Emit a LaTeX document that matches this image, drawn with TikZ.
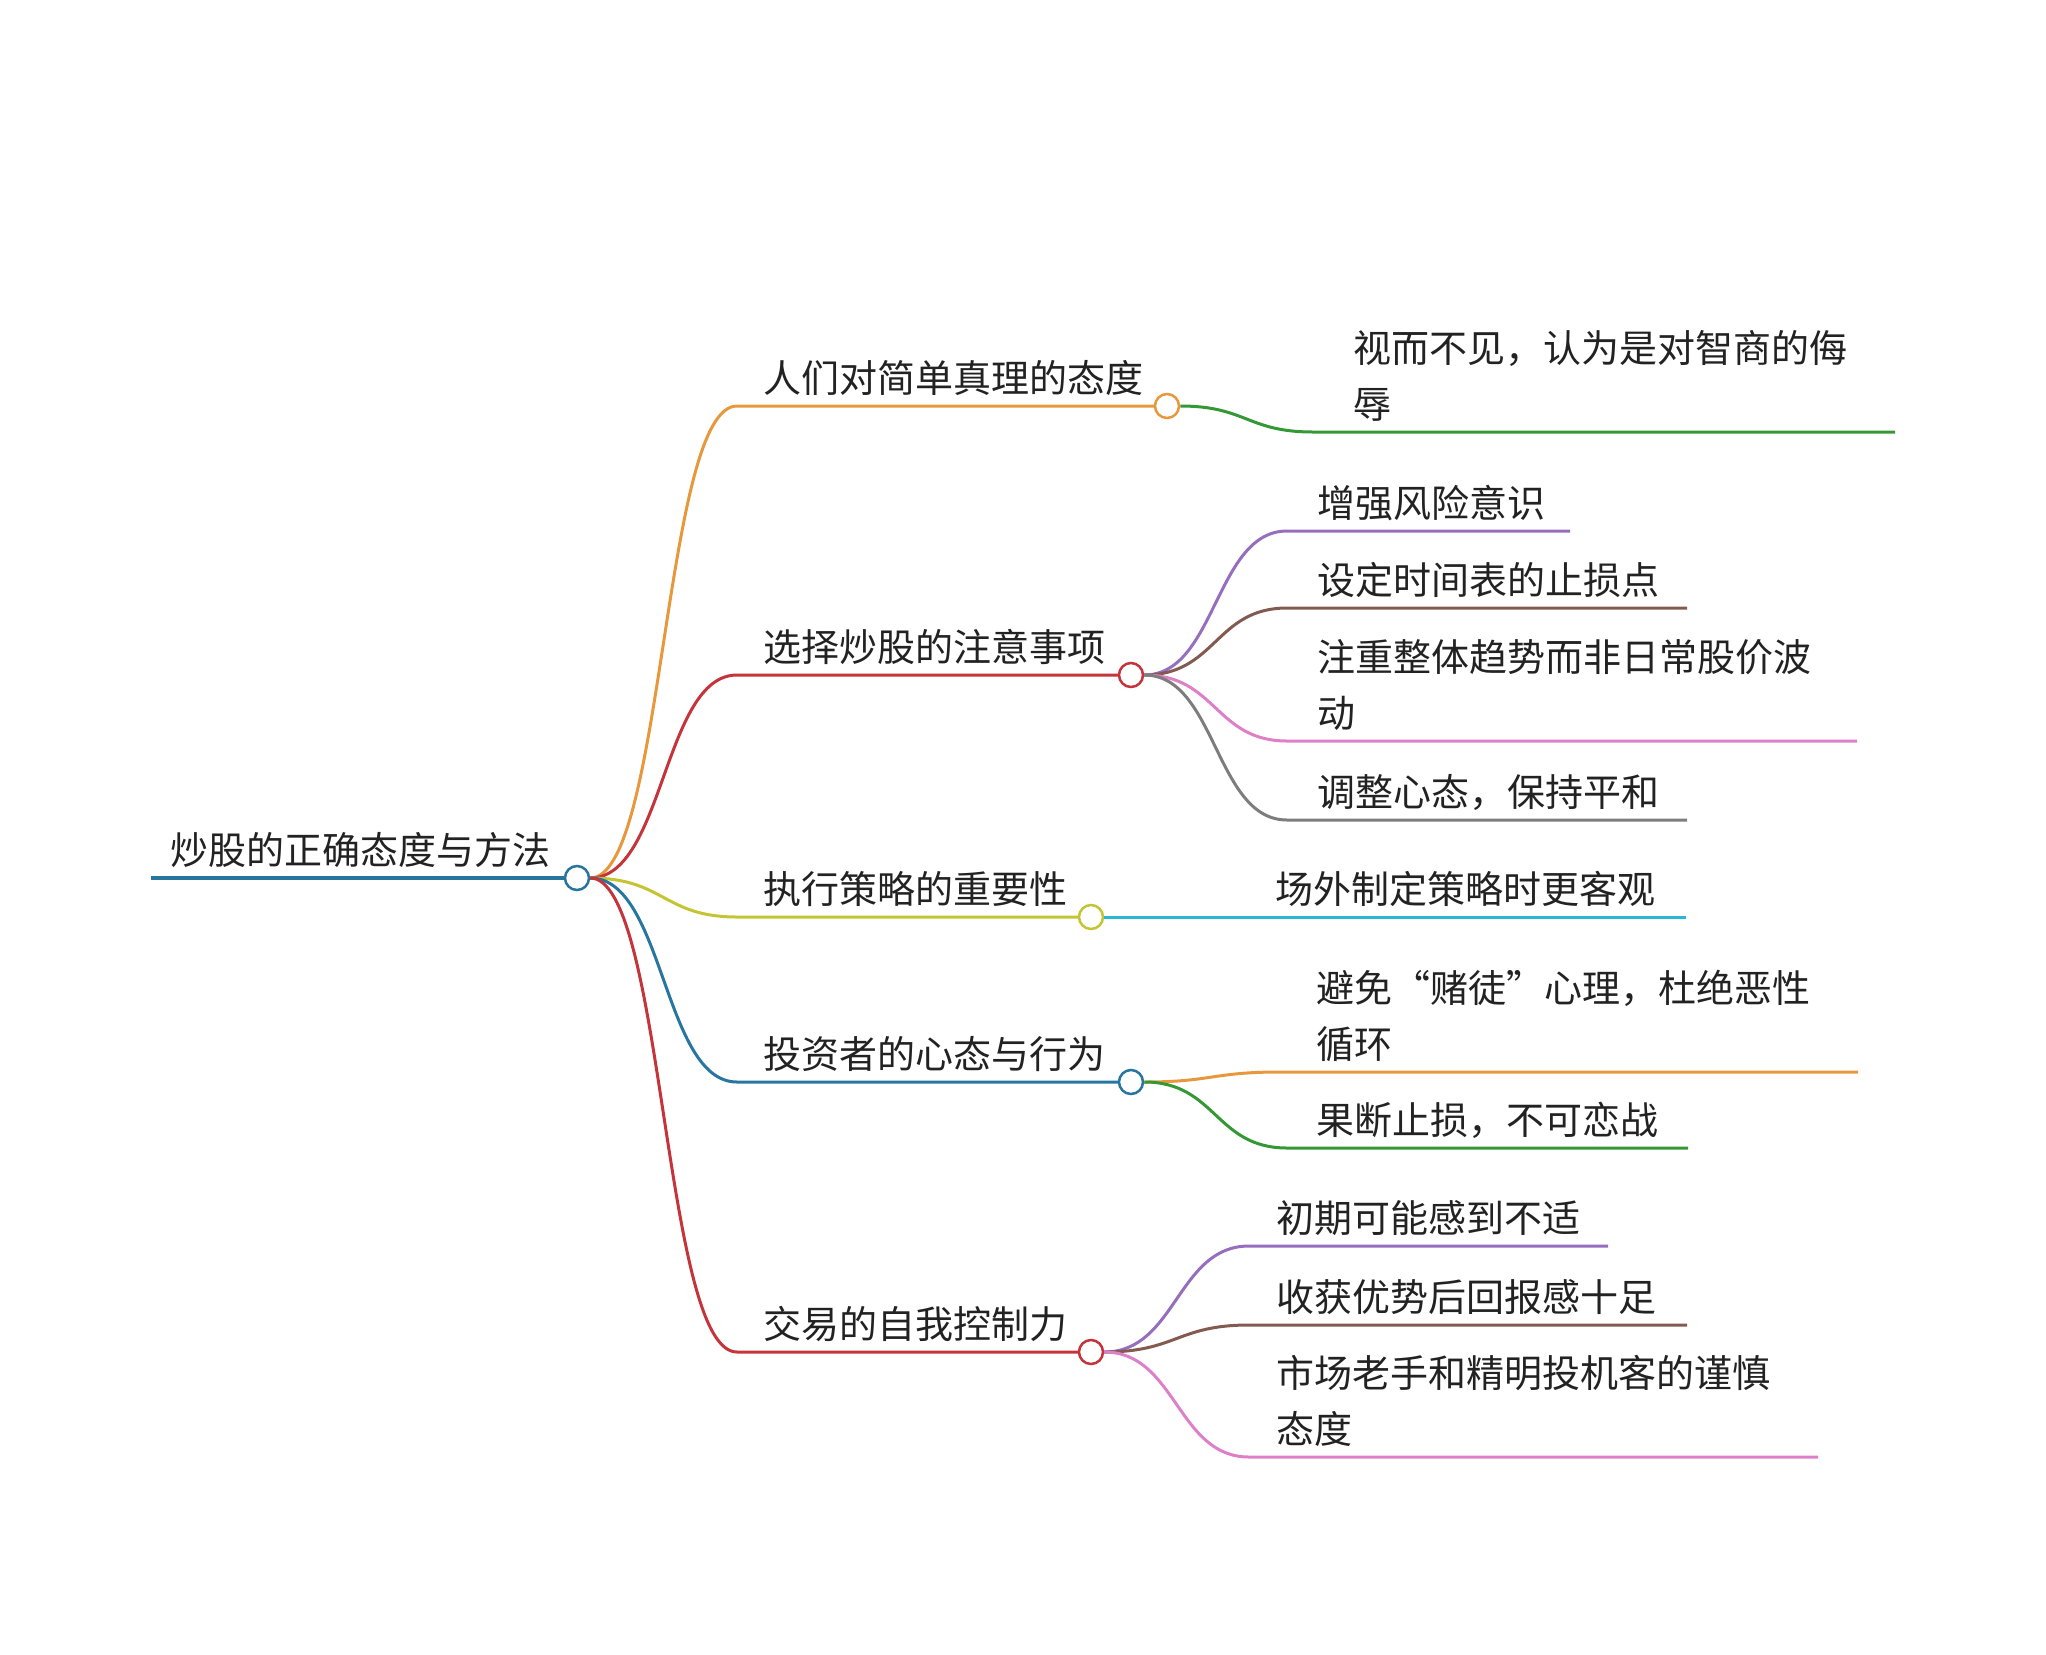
\documentclass[tikz,border=0pt]{standalone}
\usepackage{fontspec}
\setmainfont{Noto Sans CJK SC}
\usepackage{xcolor}
\usepackage{tikz}
\usetikzlibrary{positioning,calc}

\definecolor{textc}{RGB}{34,34,34}
\definecolor{rootc}{RGB}{40,118,160}
\definecolor{orangec}{RGB}{232,152,60}
\definecolor{greenc}{RGB}{52,152,52}
\definecolor{redc}{RGB}{196,52,58}
\definecolor{purplec}{RGB}{150,110,190}
\definecolor{brownc}{RGB}{130,90,80}
\definecolor{pinkc}{RGB}{222,128,200}
\definecolor{grayc}{RGB}{125,125,125}
\definecolor{olivec}{RGB}{196,196,52}
\definecolor{cyanc}{RGB}{40,184,214}

\begin{document}
\begin{tikzpicture}[x=1pt,y=-1pt,
    every node/.style={font=\fontsize{38}{56}\selectfont, text=textc, inner sep=0pt},
    topic/.style={anchor=base west, align=left},
    hub/.style={circle, draw=#1, fill=white, line width=2.5pt, minimum size=24pt},
    wire/.style={draw=#1, line width=3pt}]

    \useasboundingbox (0,0) rectangle (2046,1655);

    % Hubs
    \node[hub=rootc] (root) at (577,878) {};
    \node[hub=orangec] (b1) at (1167,406) {};
    \node[hub=redc] (b2) at (1131,675) {};
    \node[hub=olivec] (b3) at (1091,917) {};
    \node[hub=rootc] (b4) at (1131,1082) {};
    \node[hub=redc] (b5) at (1091,1352) {};

    % Root
    \coordinate (root0) at (151,878);
    \draw[wire=rootc, line width=3.8pt] (root0) -- (root.west);
    \node[topic] (rootT) at (170,864) {炒股的正确态度与方法};

    % Main branches
    \coordinate (b1s) at (737,406);
    \coordinate (b2s) at (737,675);
    \coordinate (b3s) at (737,917);
    \coordinate (b4s) at (737,1082);
    \coordinate (b5s) at (737,1352);
    \draw[wire=orangec] (root.east) .. controls +(74,0) and +(-74,0) .. (b1s) -- (b1.west);
    \draw[wire=redc] (root.east) .. controls +(74,0) and +(-74,0) .. (b2s) -- (b2.west);
    \draw[wire=olivec] (root.east) .. controls +(74,0) and +(-74,0) .. (b3s) -- (b3.west);
    \draw[wire=rootc] (root.east) .. controls +(74,0) and +(-74,0) .. (b4s) -- (b4.west);
    \draw[wire=redc] (root.east) .. controls +(74,0) and +(-74,0) .. (b5s) -- (b5.west);
    \node[topic] (b1T) at (763,392) {人们对简单真理的态度};
    \node[topic] (b2T) at (763,661) {选择炒股的注意事项};
    \node[topic] (b3T) at (763,903) {执行策略的重要性};
    \node[topic] (b4T) at (763,1068) {投资者的心态与行为};
    \node[topic] (b5T) at (763,1338) {交易的自我控制力};

    % Branch 1
    \coordinate (c11s) at (1313,432); \coordinate (c11e) at (1895,432);
    \draw[wire=greenc] (b1.east) .. controls +(66,0) and +(-66,0) .. (c11s) -- (c11e);
    \node[topic] (c11) at (1353,418) {视而不见，认为是对智商的侮\\辱};

    % Branch 2
    \coordinate (c21s) at (1287,531); \coordinate (c21e) at (1570,531);
    \coordinate (c22s) at (1287,608); \coordinate (c22e) at (1687,608);
    \coordinate (c23s) at (1287,741); \coordinate (c23e) at (1857,741);
    \coordinate (c24s) at (1287,820); \coordinate (c24e) at (1687,820);
    \draw[wire=purplec] (b2.east) .. controls +(72,0) and +(-72,0) .. (c21s) -- (c21e);
    \draw[wire=brownc] (b2.east) .. controls +(72,0) and +(-72,0) .. (c22s) -- (c22e);
    \draw[wire=pinkc] (b2.east) .. controls +(72,0) and +(-72,0) .. (c23s) -- (c23e);
    \draw[wire=grayc] (b2.east) .. controls +(72,0) and +(-72,0) .. (c24s) -- (c24e);
    \node[topic] (c21) at (1317,517) {增强风险意识};
    \node[topic] (c22) at (1317,594) {设定时间表的止损点};
    \node[topic] (c23) at (1317,727) {注重整体趋势而非日常股价波\\动};
    \node[topic] (c24) at (1317,806) {调整心态，保持平和};

    % Branch 3
    \coordinate (c31e) at (1686,917);
    \draw[wire=cyanc] (b3.east) -- (c31e);
    \node[topic] (c31) at (1275,903) {场外制定策略时更客观};

    % Branch 4
    \coordinate (c41s) at (1280,1072); \coordinate (c41e) at (1858,1072);
    \coordinate (c42s) at (1287,1148); \coordinate (c42e) at (1688,1148);
    \draw[wire=orangec] (b4.east) .. controls +(68,0) and +(-68,0) .. (c41s) -- (c41e);
    \draw[wire=greenc] (b4.east) .. controls +(72,0) and +(-72,0) .. (c42s) -- (c42e);
    \node[topic] (c41) at (1316,1058) {避免“赌徒”心理，杜绝恶性\\循环};
    \node[topic] (c42) at (1316,1134) {果断止损，不可恋战};

    % Branch 5
    \coordinate (c51s) at (1249,1246); \coordinate (c51e) at (1608,1246);
    \coordinate (c52s) at (1249,1325); \coordinate (c52e) at (1687,1325);
    \coordinate (c53s) at (1249,1457); \coordinate (c53e) at (1818,1457);
    \draw[wire=purplec] (b5.east) .. controls +(72,0) and +(-72,0) .. (c51s) -- (c51e);
    \draw[wire=brownc] (b5.east) .. controls +(72,0) and +(-72,0) .. (c52s) -- (c52e);
    \draw[wire=pinkc] (b5.east) .. controls +(72,0) and +(-72,0) .. (c53s) -- (c53e);
    \node[topic] (c51) at (1276,1232) {初期可能感到不适};
    \node[topic] (c52) at (1276,1311) {收获优势后回报感十足};
    \node[topic] (c53) at (1276,1443) {市场老手和精明投机客的谨慎\\态度};

\end{tikzpicture}
\end{document}
